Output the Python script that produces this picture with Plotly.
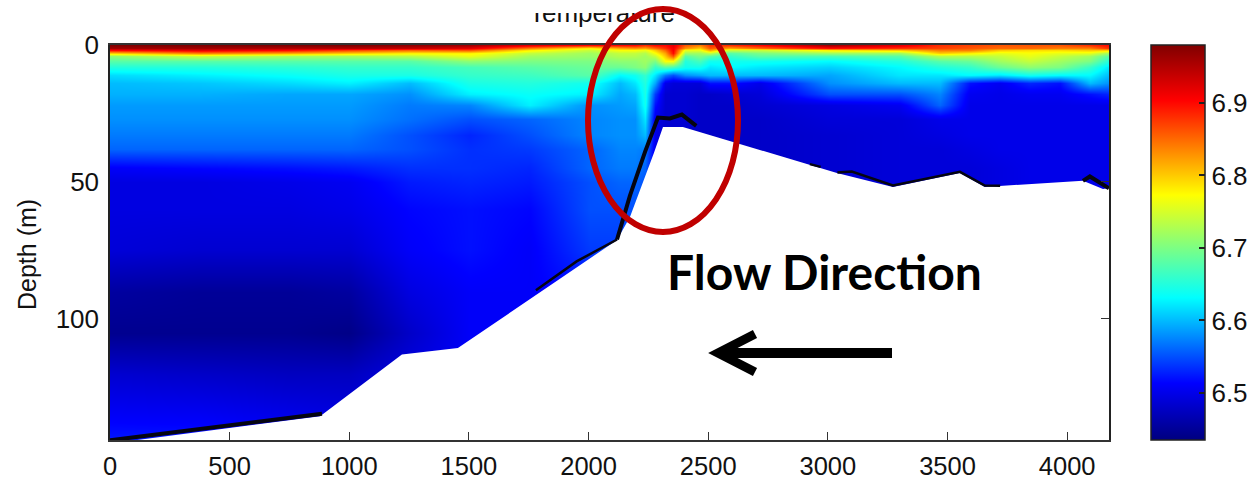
import numpy as np
import plotly.graph_objects as go

W, H = 1252, 480

station_x = [0, 376, 752, 999, 1254, 1504, 1755, 2006, 2131, 2194, 2236, 2278, 2319, 2353,
             2403, 2466, 2507, 2591, 2716, 3009, 3301, 3468, 3594, 3719, 3845, 3970, 4095, 4175]
depth_levels = [0, 1, 2, 3, 4, 6, 8, 11, 14, 18, 22, 27, 33, 38, 45, 50, 60, 75, 90, 105, 120, 145]

temp_profiles = [
 [6.98,6.96,6.90,6.80,6.71,6.68,6.65,6.615,6.60,6.595,6.585,6.58,6.57,6.56,6.51,6.495,6.495,6.49,6.455,6.445,6.485,6.525],
 [6.98,6.96,6.92,6.84,6.74,6.68,6.65,6.625,6.605,6.595,6.585,6.58,6.57,6.56,6.515,6.495,6.495,6.485,6.45,6.445,6.48,6.525],
 [6.98,6.95,6.90,6.82,6.72,6.68,6.655,6.635,6.615,6.59,6.585,6.58,6.57,6.56,6.52,6.50,6.495,6.485,6.45,6.445,6.475,6.515],
 [6.98,6.95,6.87,6.80,6.72,6.68,6.66,6.645,6.625,6.59,6.585,6.58,6.57,6.56,6.525,6.505,6.50,6.485,6.455,6.44,6.475,6.505],
 [6.97,6.94,6.85,6.78,6.73,6.68,6.66,6.645,6.60,6.58,6.57,6.565,6.55,6.55,6.535,6.525,6.515,6.51,6.495,6.48,6.495,6.505],
 [6.96,6.92,6.86,6.78,6.76,6.71,6.67,6.66,6.645,6.625,6.575,6.55,6.53,6.535,6.535,6.53,6.52,6.52,6.51,6.51,6.51,6.51],
 [6.92,6.84,6.78,6.74,6.72,6.70,6.68,6.665,6.65,6.635,6.625,6.56,6.55,6.54,6.53,6.525,6.515,6.51,6.51,6.51,6.51,6.51],
 [6.90,6.78,6.74,6.72,6.715,6.70,6.69,6.68,6.64,6.625,6.58,6.575,6.575,6.56,6.56,6.55,6.55,6.54,6.52,6.51,6.51,6.51],
 [6.90,6.82,6.77,6.74,6.73,6.71,6.69,6.63,6.60,6.59,6.585,6.58,6.58,6.575,6.57,6.56,6.55,6.54,6.53,6.52,6.52,6.52],
 [6.90,6.83,6.77,6.74,6.73,6.71,6.70,6.64,6.62,6.60,6.59,6.58,6.58,6.575,6.57,6.56,6.55,6.54,6.53,6.52,6.52,6.52],
 [6.88,6.82,6.76,6.73,6.72,6.72,6.71,6.66,6.65,6.645,6.64,6.62,6.60,6.57,6.56,6.55,6.55,6.54,6.53,6.52,6.52,6.52],
 [6.90,6.85,6.80,6.77,6.74,6.70,6.66,6.62,6.59,6.54,6.52,6.50,6.50,6.50,6.50,6.50,6.50,6.50,6.50,6.50,6.50,6.50],
 [6.90,6.88,6.85,6.82,6.80,6.77,6.68,6.57,6.50,6.485,6.485,6.485,6.485,6.485,6.485,6.485,6.485,6.485,6.485,6.485,6.485,6.485],
 [6.92,6.91,6.91,6.90,6.86,6.77,6.67,6.55,6.49,6.485,6.485,6.485,6.485,6.485,6.485,6.485,6.485,6.485,6.485,6.485,6.485,6.485],
 [6.86,6.83,6.76,6.72,6.68,6.65,6.64,6.58,6.49,6.485,6.485,6.485,6.485,6.485,6.485,6.485,6.485,6.485,6.485,6.485,6.485,6.485],
 [6.84,6.80,6.76,6.72,6.70,6.67,6.64,6.59,6.49,6.48,6.48,6.48,6.48,6.48,6.48,6.48,6.48,6.48,6.48,6.48,6.48,6.48],
 [6.88,6.86,6.82,6.74,6.68,6.64,6.62,6.60,6.52,6.48,6.48,6.48,6.48,6.48,6.48,6.48,6.48,6.48,6.48,6.48,6.48,6.48],
 [6.88,6.82,6.74,6.68,6.66,6.64,6.63,6.60,6.52,6.485,6.48,6.48,6.48,6.48,6.48,6.48,6.48,6.48,6.48,6.48,6.48,6.48],
 [6.90,6.85,6.74,6.70,6.68,6.64,6.62,6.60,6.50,6.49,6.485,6.48,6.48,6.48,6.48,6.48,6.48,6.48,6.48,6.48,6.48,6.48],
 [6.96,6.90,6.78,6.72,6.67,6.63,6.61,6.59,6.58,6.55,6.495,6.49,6.485,6.485,6.485,6.485,6.485,6.485,6.485,6.485,6.485,6.485],
 [6.92,6.88,6.80,6.72,6.68,6.65,6.63,6.62,6.60,6.55,6.505,6.49,6.49,6.49,6.49,6.49,6.49,6.49,6.49,6.49,6.49,6.49],
 [6.88,6.87,6.84,6.80,6.73,6.68,6.65,6.62,6.60,6.575,6.56,6.50,6.495,6.49,6.49,6.49,6.49,6.49,6.49,6.49,6.49,6.49],
 [6.87,6.86,6.84,6.78,6.73,6.69,6.66,6.63,6.52,6.505,6.50,6.50,6.50,6.495,6.49,6.49,6.49,6.49,6.49,6.49,6.49,6.49],
 [6.86,6.85,6.80,6.76,6.74,6.72,6.69,6.62,6.505,6.50,6.50,6.50,6.50,6.50,6.495,6.495,6.495,6.495,6.495,6.495,6.495,6.495],
 [6.86,6.85,6.79,6.77,6.76,6.74,6.71,6.64,6.53,6.505,6.50,6.50,6.50,6.50,6.50,6.50,6.50,6.50,6.50,6.50,6.50,6.50],
 [6.86,6.84,6.79,6.76,6.74,6.72,6.70,6.63,6.52,6.505,6.50,6.50,6.50,6.50,6.50,6.50,6.50,6.50,6.50,6.50,6.50,6.50],
 [6.88,6.84,6.80,6.76,6.72,6.70,6.66,6.63,6.60,6.52,6.50,6.50,6.50,6.50,6.50,6.50,6.50,6.50,6.50,6.50,6.50,6.50],
 [6.90,6.88,6.80,6.72,6.68,6.65,6.62,6.60,6.58,6.53,6.50,6.50,6.50,6.50,6.50,6.50,6.50,6.50,6.50,6.50,6.50,6.50],
]

seabed_x = [0, 878, 1220, 1454, 2119, 2173, 2273, 2311, 2394, 3038, 3272, 3552, 3656, 4066, 4150, 4175]
seabed_depth = [145.5, 135.5, 113, 110.6, 71.2, 62.8, 39.4, 29.9, 29.9, 46.7, 51.8, 46.7, 51.8, 49.6, 52.6, 52.2]

heavy_x = [0, 886, None, 2119, 2173, 2236, 2290, 2340, 2390, 2450, None, 4066, 4095, 4175]
heavy_depth = [144.3, 134.6, None, 71, 55, 39, 26.5, 26.8, 25.4, 29.5, None, 49.6, 48, 52.3]
thin_x = [1780, 1950, 2119, None, 2925, 2970, None, 3040, 3100, 3272, 3552, 3656, 3720]
thin_depth = [89.5, 79, 71, None, 43.5, 44.5, None, 46.5, 46.2, 51.3, 46.3, 51.3, 51.4]

x_ticks = [0, 500, 1000, 1500, 2000, 2500, 3000, 3500, 4000]
depth_ticks = [0, 50, 100]
color_ticks = [6.5, 6.6, 6.7, 6.8, 6.9]
X_MAX, DEPTH_MAX = 4175, 144.2
T_MIN, T_MAX = 6.435, 6.98

jet = [[0, "#00007f"], [0.144, "#0000ff"], [0.36, "#00ffff"], [0.49, "#80ff80"],
       [0.62, "#ffff00"], [0.74, "#ff8000"], [0.86, "#ff0000"], [1, "#800000"]]

FONT = "Liberation Sans"
px = lambda v: v / W
py = lambda v: 1 - v / H

fig = go.Figure()
fig.add_trace(go.Heatmap(
    x=station_x, y=depth_levels, z=np.array(temp_profiles).T.tolist(), zsmooth="best",
    colorscale=jet, zmin=T_MIN, zmax=T_MAX,
    colorbar=dict(x=px(1151), xanchor="left", y=py(440), yanchor="bottom", len=395 / H,
                  lenmode="fraction", thickness=54, thicknessmode="pixels", xpad=0, ypad=0,
                  outlinecolor="#222", outlinewidth=1.5, tickvals=color_ticks, ticks="inside",
                  ticklen=6, tickcolor="#222", tickwidth=1.5,
                  tickfont=dict(family=FONT, size=26, color="#111")),
))
fig.add_trace(go.Scatter(
    x=[2056], y=[15], mode="text", text=["Temperature"], xaxis="x", yaxis="y4",
    textfont=dict(family=FONT, size=26, color="#111"), textposition="middle center", showlegend=False,
))
fig.add_trace(go.Scatter(
    x=seabed_x + [X_MAX, X_MAX, 0], y=seabed_depth + [DEPTH_MAX + 5, DEPTH_MAX + 5, DEPTH_MAX + 5],
    mode="lines", fill="toself", fillcolor="white", line=dict(color="white", width=0), yaxis="y2", showlegend=False,
))
fig.add_trace(go.Scatter(
    x=heavy_x, y=heavy_depth, mode="lines", line=dict(color="#050510", width=4), yaxis="y2", showlegend=False,
))
fig.add_trace(go.Scatter(
    x=thin_x, y=thin_depth, mode="lines", line=dict(color="#050510", width=2.5), yaxis="y2", showlegend=False,
))
fig.add_trace(go.Scatter(x=[0], y=[6.5], mode="markers", marker=dict(opacity=0), xaxis="x3", yaxis="y3", showlegend=False))

fig.update_layout(
    width=W, height=H, margin=dict(l=0, r=0, t=0, b=0, autoexpand=False),
    paper_bgcolor="white", plot_bgcolor="white", showlegend=False,
    xaxis=dict(domain=[px(110), px(1109)], range=[0, X_MAX], tickvals=x_ticks, ticks="inside", ticklen=8,
               tickwidth=1.2, tickcolor="#333", showline=True, linecolor="#333", linewidth=1.5, mirror=True,
               showgrid=False, zeroline=False, ticklabelstandoff=3,
               tickfont=dict(family=FONT, size=25.5, color="#111")),
    yaxis=dict(domain=[py(440), py(45)], range=[DEPTH_MAX, 0], tickvals=depth_ticks, ticks="",
               showline=True, linecolor="#222", linewidth=1.5, showgrid=False, zeroline=False,
               ticklabelstandoff=4, tickfont=dict(family=FONT, size=26, color="#111")),
    yaxis2=dict(domain=[py(440), py(45)], overlaying="y", side="right", range=[DEPTH_MAX, 0], tickvals=depth_ticks,
                ticks="inside", ticklen=8, tickwidth=1.2, tickcolor="#333", showticklabels=False, showline=True,
                linecolor="#222", linewidth=1.5, showgrid=False, zeroline=False),
    xaxis3=dict(domain=[px(1151), px(1205)], range=[0, 1], visible=False),
    yaxis3=dict(domain=[py(440), py(45)], anchor="x3", range=[T_MIN, T_MAX], tickvals=color_ticks, ticks="inside",
                ticklen=6, tickwidth=1.5, tickcolor="#222", showticklabels=False, showline=False,
                showgrid=False, zeroline=False),
    yaxis4=dict(domain=[py(45), 1], anchor="x", range=[45, 0], visible=False),
)

common = dict(xref="paper", yref="paper", layer="above")
fig.add_shape(type="rect", x0=px(500), x1=px(700), y0=py(13), y1=1, fillcolor="white", line=dict(width=0), **common)
fig.add_shape(type="circle", x0=px(588), x1=px(738), y0=py(232), y1=py(9), line=dict(color="#c00000", width=6), **common)
shaft = f"M {px(892)} {py(353)} L {px(724)} {py(353)}"
head = f"M {px(755)} {py(334)} L {px(718)} {py(353)} L {px(755)} {py(372)}"
fig.add_shape(type="path", path=shaft, line=dict(color="black", width=10), **common)
fig.add_shape(type="path", path=head, line=dict(color="black", width=9), **common)

fig.add_annotation(text="Flow Direction", xref="paper", yref="paper", x=px(824), y=py(271), showarrow=False,
                   xanchor="center", yanchor="middle",
                   font=dict(family="Lato", size=48, color="black", weight="bold"))
fig.add_annotation(text="Depth (m)", xref="paper", yref="paper", x=px(27), y=py(255), textangle=-90, showarrow=False,
                   xanchor="center", yanchor="middle", font=dict(family=FONT, size=25, color="#111"))

fig.write_html("out.html", config={"displayModeBar": False}, post_script="document.body.style.margin='0';")
